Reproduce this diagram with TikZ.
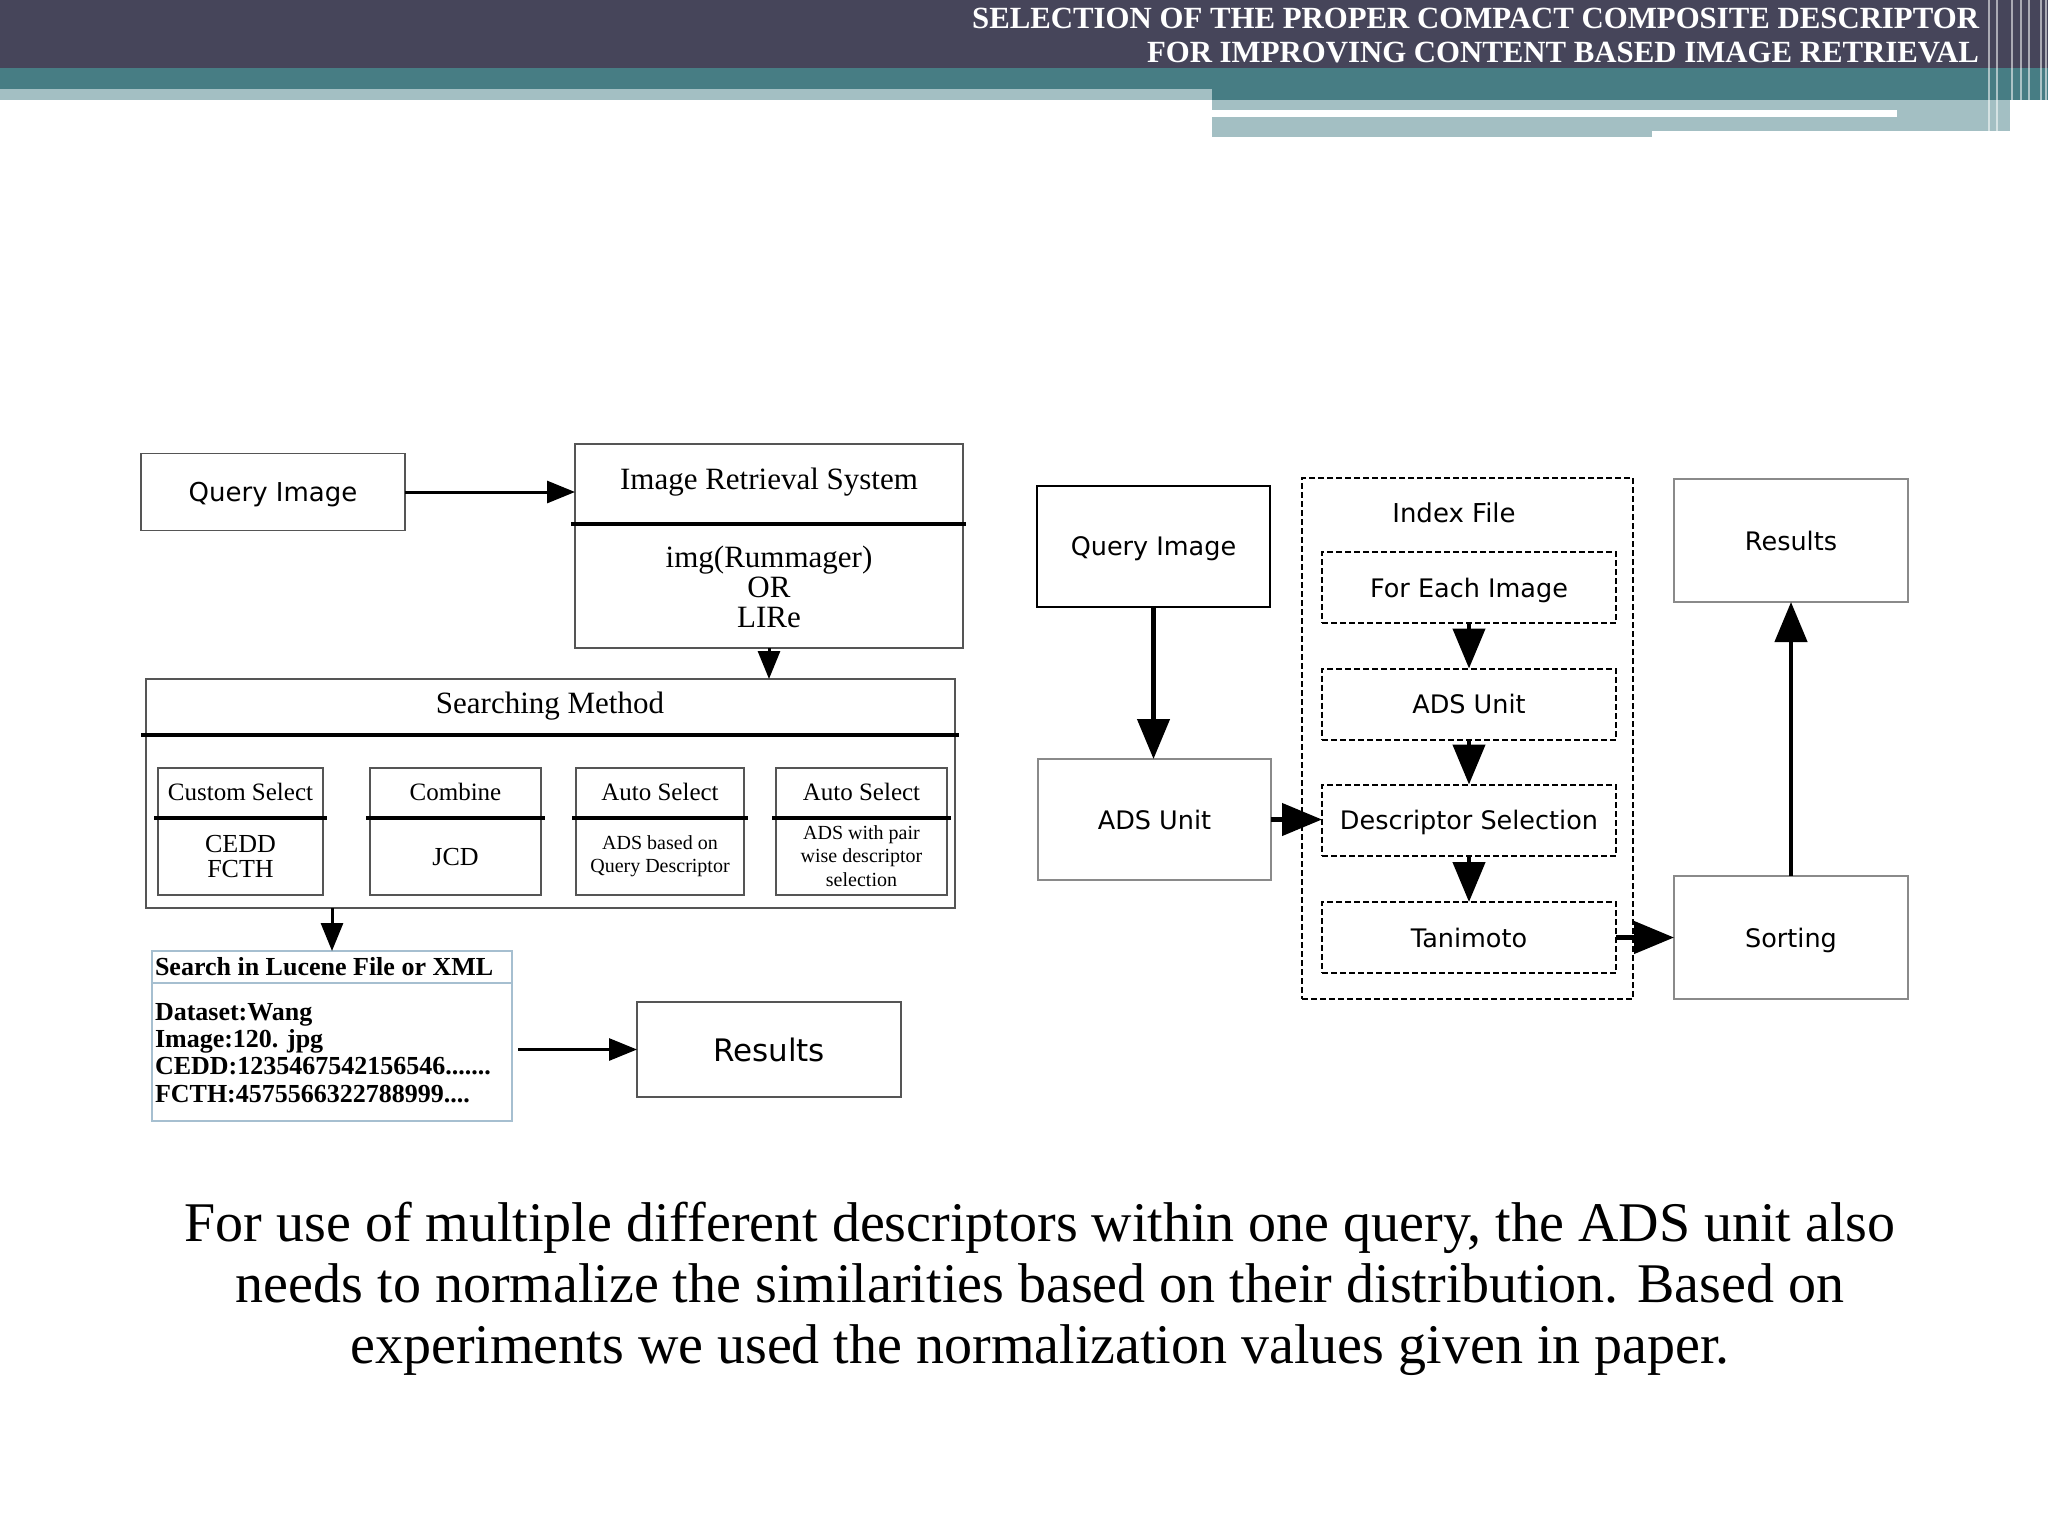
\documentclass[tikz,border=0pt]{standalone}
\usepackage{fontspec}
\setmainfont{Liberation Serif}
\newfontfamily\diagsans{DejaVu Sans}
\usetikzlibrary{calc}
\usetikzlibrary{arrows.meta}

\definecolor{bandDark}{HTML}{46455A}
\definecolor{bandTeal}{HTML}{477D84}
\definecolor{bandLight}{HTML}{A3BFC3}
\definecolor{boxGrey}{HTML}{555555}
\definecolor{lightGrey}{HTML}{8A8A8A}
\definecolor{luceneBlue}{HTML}{A6BFD0}

% font size in px (1px = 1pt here) and line distance
\newcommand{\pxfont}[2]{\fontsize{#1}{#2}\selectfont}

\begin{document}
\begin{tikzpicture}[
    x=1pt, y=-1pt,
    every node/.style={inner sep=0pt, outer sep=0pt},
    plain_box/.style={draw=boxGrey, line width=1.5pt, rectangle},
    sans_text/.style={font=\diagsans\pxfont{25.5}{30}, text depth=0pt},
    sep_line/.style={black, line width=4pt},
    left_arrow/.style={-{Triangle[length=28pt,width=22pt]}, line width=3pt},
    big_arrow/.style={-{Triangle[length=40pt,width=32pt]}, line width=4.5pt}
  ]

% Page frame: 2048 x 1536 px, y grows downwards
\useasboundingbox (0,0) rectangle (2048,1536);
\fill[white] (0,0) rectangle (2048,1536);

% Header bands
\fill[bandDark] (0,0) rectangle (2048,68);
\fill[bandTeal] (0,68) rectangle (2048,89);
\fill[bandTeal] (1212,89) rectangle (2048,100);
\fill[bandLight] (0,89) rectangle (1212,100);
\fill[bandLight] (1212,100) rectangle (1652,137);
\fill[bandLight] (1652,100) rectangle (2010,131);
\fill[white] (1212,110) rectangle (1897,117);
% thin stripes at the right edge of the header
\foreach \sx in {1989,1997,2012,2021,2029,2041,2046}
  \draw[white, opacity=0.55, line width=2pt] (\sx,0) -- (\sx,137);

% Header title, right aligned
\node[anchor=base east, text=white, font=\bfseries\pxfont{30.8}{34}] (title_a) at (1979,29)
  {SELECTION OF THE PROPER COMPACT COMPOSITE DESCRIPTOR};
\node[anchor=base east, text=white, font=\bfseries\pxfont{30.8}{34}] (title_b) at (1979,63)
  {FOR IMPROVING CONTENT BASED IMAGE RETRIEVAL};

% ---------------- Left diagram ----------------

% Query image and the retrieval system
\node[plain_box, sans_text, minimum width=264, minimum height=77, font=\diagsans\pxfont{26}{31}] (qi_left) at (273,492) {Query Image};
\node[plain_box, minimum width=388, minimum height=204] (irs) at (769,546) {};
\node[font=\pxfont{31}{36}] (irs_title) at (769,482) {Image Retrieval System};
\draw[sep_line] (571,524) -- (966,524); % line under the title
\node[align=center, font=\pxfont{31}{30}] (irs_body) at (769,587) {img(Rummager)\\OR\\LIRe};

\draw[left_arrow] (qi_left.east) -- (qi_left.east -| irs.west);

% Searching method with its four choices
\node[plain_box, minimum width=809, minimum height=229] (sm) at (550.5,793.5) {};
\node[font=\pxfont{31}{36}] (sm_title) at (550,706) {Searching Method};
\draw[sep_line] (141,735) -- (959,735); % line under the title

\draw[left_arrow] (irs.south) -- (irs.south |- sm.north);

% Custom Select
\node[plain_box, minimum width=165, minimum height=127] (cs) at (240.5,831.5) {};
\node[font=\pxfont{25}{30}] (cs_title) at (240.5,792) {Custom Select};
\draw[sep_line] (154,818) -- (327,818);
\node[align=center, font=\pxfont{26}{25}] (cs_body) at (240.5,857) {CEDD\\FCTH};

% Combine
\node[plain_box, minimum width=171, minimum height=127] (cb) at (455.5,831.5) {};
\node[font=\pxfont{25}{30}] (cb_title) at (455.5,792) {Combine};
\draw[sep_line] (366,818) -- (545,818);
\node[font=\pxfont{26}{30}] (cb_body) at (455.5,857) {JCD};

% Auto Select, query descriptor
\node[plain_box, minimum width=168, minimum height=127] (as_one) at (660,831.5) {};
\node[font=\pxfont{25}{30}] (as_one_title) at (660,792) {Auto Select};
\draw[sep_line] (572,818) -- (748,818);
\node[align=center, font=\pxfont{20}{23.5}] (as_one_body) at (660,856) {ADS based on\\Query Descriptor};

% Auto Select, pair wise
\node[plain_box, minimum width=171, minimum height=127] (as_two) at (861.5,831.5) {};
\node[font=\pxfont{25}{30}] (as_two_title) at (861.5,792) {Auto Select};
\draw[sep_line] (772,818) -- (951,818);
\node[align=center, font=\pxfont{20}{23.5}] (as_two_body) at (861.5,856) {ADS with pair\\wise descriptor\\selection};

% Lucene search box
\node[draw=luceneBlue, line width=1.5pt, minimum width=360, minimum height=170] (lucene) at (332,1036) {};
\node[anchor=west, font=\bfseries\pxfont{26}{30}] (lucene_title) at (155,967) {Search in Lucene File or XML};
\draw[luceneBlue, line width=1.5pt] (lucene.west |- 0,983) -- (lucene.east |- 0,983);
\node[anchor=west, align=left, font=\bfseries\pxfont{26}{27.3}] (lucene_body) at (155,1053)
  {Dataset:Wang\\Image:120. jpg\\CEDD:1235467542156546.......\\FCTH:4575566322788999....};

\draw[left_arrow] (lucene.north |- sm.south) -- (lucene.north);

% Results of the left diagram
\node[plain_box, sans_text, minimum width=264, minimum height=95, font=\diagsans\pxfont{31}{36}] (res_left) at (769,1049.5) {Results};
\draw[left_arrow, shorten <=6pt] (res_left.west -| lucene.east) -- (res_left.west);

% ---------------- Right diagram ----------------

\tikzset{dash_box/.style={draw=black, line width=2pt, dash pattern=on 6pt off 3pt,
    minimum width=294, minimum height=71, sans_text}}

\node[draw=black, line width=2.5pt, minimum width=233, minimum height=121, sans_text] (qi_right) at (1153.5,546.5) {Query Image};
\node[draw=lightGrey, line width=2.5pt, minimum width=233, minimum height=121, sans_text] (ads_right) at (1154.5,819.5) {ADS Unit};

% Index file with the steps done for each image
\node[draw=black, line width=2pt, dash pattern=on 6pt off 3pt, minimum width=331, minimum height=521] (index) at (1467.5,738.5) {};
\node[sans_text, font=\diagsans\pxfont{26}{30}] (index_title) at (1454,513) {Index File};
\node[dash_box] (feach) at (1469,587.5) {For Each Image};
\node[dash_box] (ads_inner) at (1469,704) {ADS Unit};
\node[dash_box] (dsel) at (1469,820) {Descriptor Selection};
\node[dash_box] (tani) at (1469,937.5) {Tanimoto};

% Sorting and results
\node[draw=lightGrey, line width=2.5pt, minimum width=234, minimum height=123, sans_text] (sort) at (1791,937.5) {Sorting};
\node[draw=lightGrey, line width=2.5pt, minimum width=234, minimum height=123, sans_text] (res_right) at (1791,540.5) {Results};

% Arrows of the right diagram
\draw[big_arrow] (qi_right.south) -- (qi_right.south |- ads_right.north);
\draw[big_arrow] (ads_right.east) -- (ads_right.east -| dsel.west);
\draw[big_arrow] (feach.south) -- (ads_inner.north);
\draw[big_arrow] (ads_inner.south) -- (dsel.north);
\draw[big_arrow] (dsel.south) -- (tani.north);
\draw[big_arrow] (tani.east) -- (tani.east -| sort.west);
\draw[big_arrow] (sort.north) -- (res_right.south);

% Caption below the diagrams
\node[align=center, font=\pxfont{56}{61}] (caption) at (1040,1289)
  {For use of multiple different descriptors within one query, the ADS unit also\\
   needs to normalize the similarities based on their distribution. Based on\\
   experiments we used the normalization values given in paper.};

\end{tikzpicture}
\end{document}
